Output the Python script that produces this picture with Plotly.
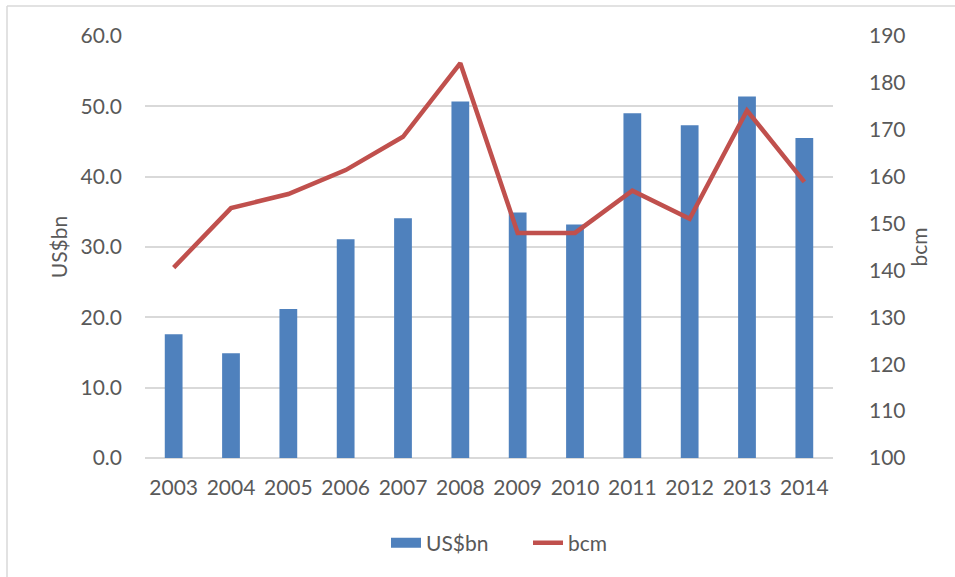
import plotly.graph_objects as go

years = ["2003", "2004", "2005", "2006", "2007", "2008", "2009", "2010", "2011", "2012", "2013", "2014"]
usd_bn = [17.6, 14.9, 21.2, 31.1, 34.1, 50.7, 34.9, 33.2, 49.0, 47.3, 51.4, 45.5]
bcm = [140.6, 153.3, 156.3, 161.4, 168.5, 184.2, 148.0, 148.0, 157.0, 151.0, 174.1, 158.9]

FONT = "Lato"
TXT = "#595959"
GRID = "#D9D9D9"
BLUE = "#4F81BD"
RED = "#C0504D"

fig = go.Figure()
fig.add_trace(go.Bar(x=years, y=usd_bn, name="US$bn", marker=dict(color=BLUE, line=dict(width=0)),
                     yaxis="y", showlegend=False))
# legend swatch for the bars (wide rectangle, as in the original)
fig.add_trace(go.Scatter(x=[None], y=[None], name="US$bn", mode="lines",
                         line=dict(color=BLUE, width=12), yaxis="y", showlegend=True))
fig.add_trace(go.Scatter(x=years, y=bcm, name="bcm", mode="lines", line=dict(color=RED, width=4.5), yaxis="y2"))

W, H = 955, 577
L, T = 145, 36
R = W - 833
B = H - 458
pw, ph = W - L - R, H - T - B

bx = (7 - L) / pw
by = 1 + (T - 6) / ph

fig.update_layout(
    width=W, height=H,
    margin=dict(l=L, r=R, t=T, b=B, pad=0),
    paper_bgcolor="white", plot_bgcolor="white",
    font=dict(family=FONT, size=21, color=TXT),
    bargap=0.69,
    showlegend=True,
    legend=dict(orientation="h", x=(386 - L) / pw, xanchor="left", y=(H - B - 543) / ph,
                yanchor="middle", font=dict(size=21, color=TXT), tracegroupgap=0,
                entrywidth=97, entrywidthmode="pixels"),
    xaxis=dict(type="category", showgrid=False, showline=False, ticks="", ticklabelstandoff=15,
               tickfont=dict(size=21, color=TXT)),
    yaxis=dict(range=[0, 60], dtick=10, tickformat=".1f", showgrid=True, gridcolor=GRID, gridwidth=1.5,
               zeroline=True, zerolinecolor=GRID, zerolinewidth=1.5, showline=False, ticks="",
               ticklabelstandoff=22, tickfont=dict(size=21, color=TXT),
               title=dict(text="US$bn", font=dict(size=21, color=TXT), standoff=7)),
    yaxis2=dict(range=[100, 190], dtick=10, overlaying="y", side="right", showgrid=False, zeroline=False,
                showline=False, ticks="", ticklabelstandoff=35, tickfont=dict(size=21, color=TXT),
                title=dict(text="bcm", font=dict(size=21, color=TXT), standoff=3)),
    shapes=[
        dict(type="line", xref="paper", yref="paper", x0=bx, x1=1.5, y0=by, y1=by, line=dict(color=GRID, width=1.5)),
        dict(type="line", xref="paper", yref="paper", x0=bx, x1=bx, y0=by, y1=-0.5, line=dict(color=GRID, width=1.5)),
    ],
)

fig.write_html("out.html", config={"displayModeBar": False},
               post_script="document.body.style.margin='0';")
